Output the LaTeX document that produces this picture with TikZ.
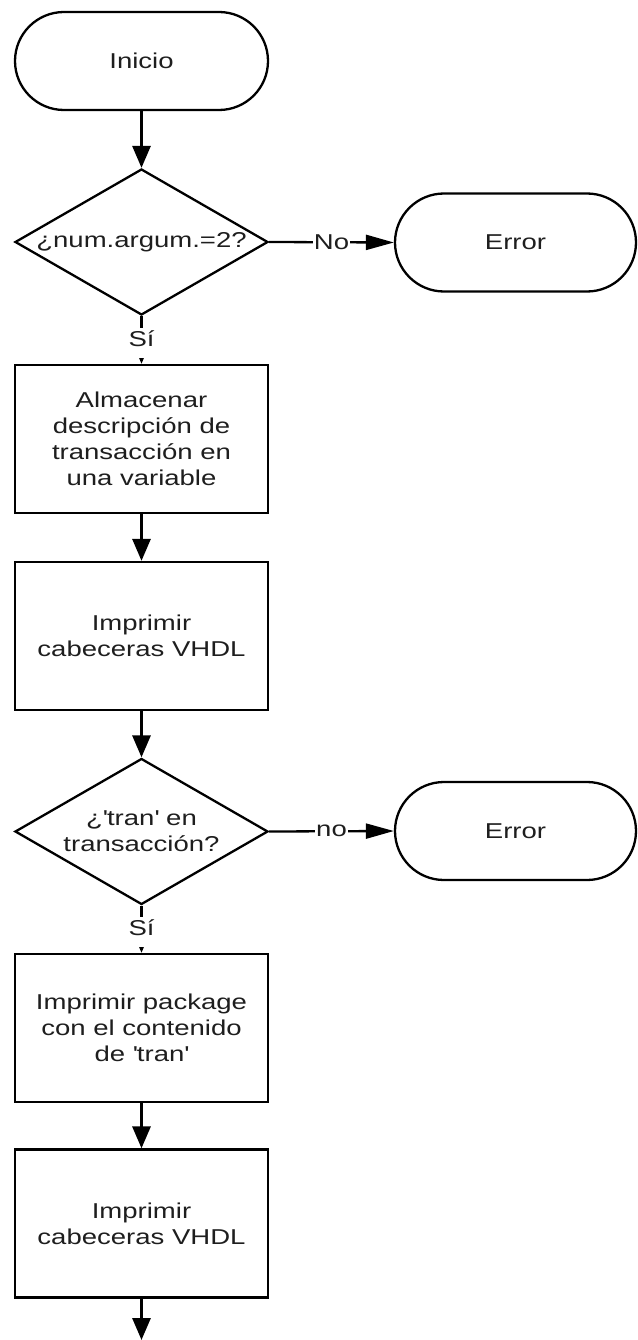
\documentclass[tikz,border=0pt]{standalone}
\usepackage{fontspec}
\setmainfont{Liberation Sans}[FakeStretch=1.28]
\usetikzlibrary{shapes.geometric,arrows.meta}
\definecolor{ink}{HTML}{1E1E1E}

\begin{document}
\begin{tikzpicture}[x=1pt,y=-1pt,
  every node/.style={font=\fontsize{21.5}{26}\selectfont, text=ink},
  terminal/.style={draw=black, line width=2.3pt, rounded corners=49pt,
    minimum width=253pt, minimum height=98pt, inner sep=0pt},
  process/.style={draw=black, rectangle, line width=2.3pt,
    minimum width=253pt, minimum height=148pt, inner sep=0pt, align=center},
  decision/.style={draw=black, diamond, shape aspect=1.73, line width=2.3pt,
    minimum width=253pt, minimum height=146pt, inner sep=0pt, align=center},
  vflow/.style={line width=3pt, -{Triangle[length=22pt,width=18pt]}},
  hflow/.style={line width=2.3pt, -{Triangle[length=28pt,width=15pt]}},
  vlabel/.style={fill=white, inner xsep=2pt, inner ysep=3pt,
    text height=15pt, text depth=9pt, yshift=-3pt},
  hlabel/.style={fill=white, inner xsep=1pt, inner ysep=2pt},
]
  % page area
  \fill[white] (0,0) rectangle (637,1340);
  \useasboundingbox (0,0) rectangle (637,1340);

  % shapes
  \node[terminal] (start) at (141.5,61) {Inicio};
  \node[decision] (q1) at (141.5,242) {¿num.argum.=2?};
  \node[terminal, minimum width=241pt] (err1) at (515.5,242.5) {Error};
  \node[process] (store) at (141.5,439)
    {Almacenar\\descripción de\\transacción en\\una variable};
  \node[process] (hdr1) at (141.5,636) {Imprimir\\cabeceras VHDL};
  \node[decision] (q2) at (141.5,831.5)
    {¿\textquotesingle tran\textquotesingle{} en\\transacción?};
  \node[terminal, minimum width=241pt] (err2) at (515.5,831) {Error};
  \node[process] (pkg) at (141.5,1028)
    {Imprimir package\\con el contenido\\de \textquotesingle tran\textquotesingle};
  \node[process] (hdr2) at (141.5,1223.5) {Imprimir\\cabeceras VHDL};
  \coordinate (next) at (141.5,1340);

  % connectors
  \draw[vflow] (start) -- (q1);
  \draw[hflow] (q1.east) -- node[hlabel] {No} (err1.west);
  \draw[vflow] (q1.south) -- node[vlabel] {Sí} (store.north);
  \draw[vflow] (store) -- (hdr1);
  \draw[vflow] (hdr1) -- (q2);
  \draw[hflow] (q2.east) -- node[hlabel] {no} (err2.west);
  \draw[vflow] (q2.south) -- node[vlabel] {Sí} (pkg.north);
  \draw[vflow] (pkg) -- (hdr2);
  \draw[vflow] (hdr2) -- (next);
\end{tikzpicture}
\end{document}
